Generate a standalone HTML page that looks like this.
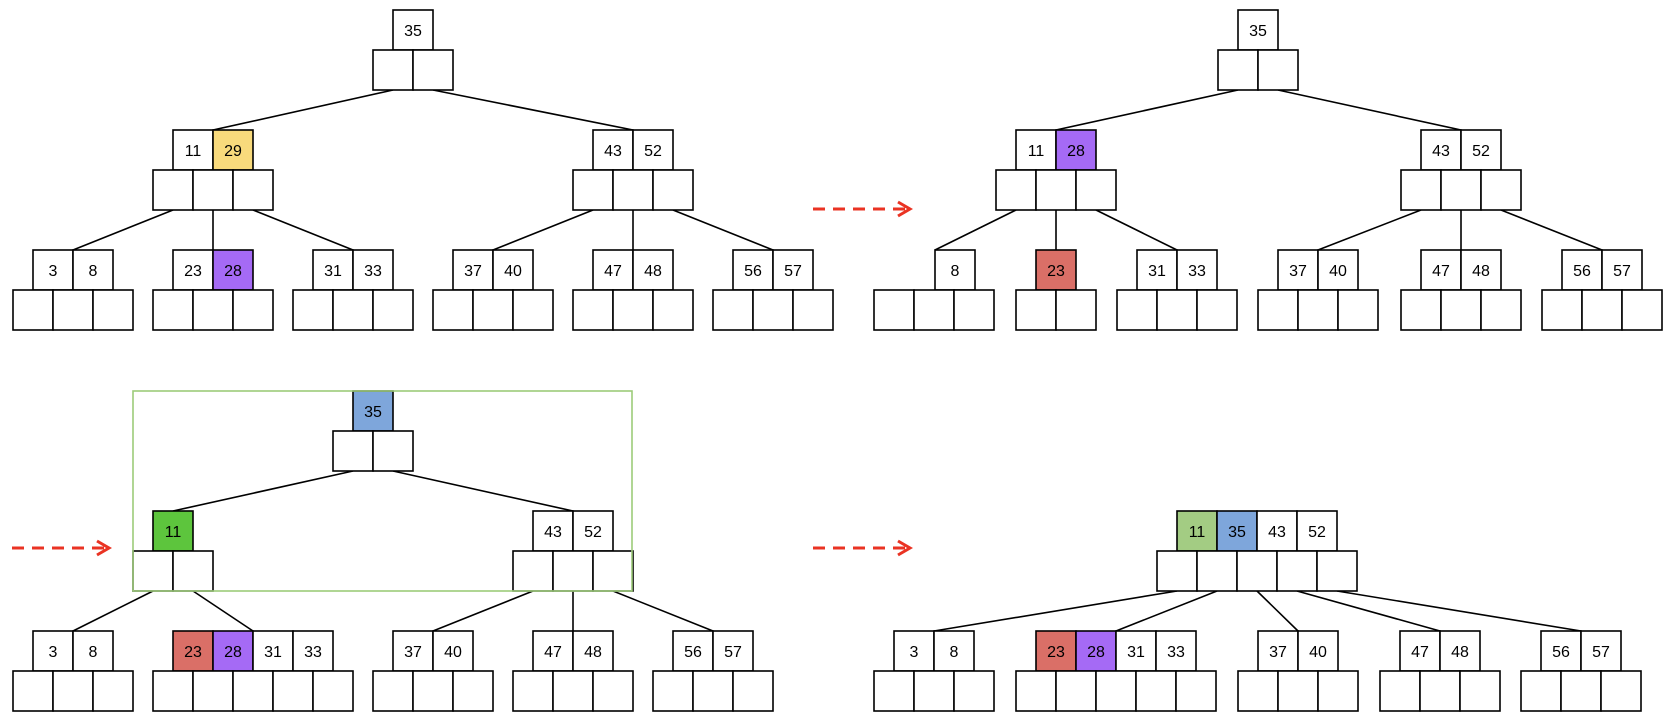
<!DOCTYPE html>
<html><head><meta charset="utf-8"><style>
html,body{margin:0;padding:0;background:#fff;}
svg{display:block;}
rect{fill:#fff;stroke:#000;stroke-width:1.6;}
line.e{stroke:#000;stroke-width:1.6;}
text{font-family:"Liberation Sans",sans-serif;font-size:16px;text-anchor:middle;fill:#000;}
.y{fill:#F8DA7C}.p{fill:#A56AF5}.r{fill:#DA6F67}.b{fill:#7EA6DB}.g{fill:#5DC53D}.lg{fill:#A3CC83}
</style></head><body>
<svg width="1664" height="720" viewBox="0 0 1664 720" xmlns="http://www.w3.org/2000/svg">
<g stroke="#EA3323" stroke-width="3" stroke-dasharray="12,8" fill="none">
<line x1="813" y1="209" x2="906" y2="209"/>
<line x1="813" y1="548" x2="906" y2="548"/>
<line x1="12" y1="548" x2="105" y2="548"/>
</g>
<g stroke="#EA3323" stroke-width="3" fill="none">
<path d="M898,202 L910,209 L898,216"/>
<path d="M898,541 L910,548 L898,555"/>
<path d="M97,541 L109,548 L97,555"/>
</g>

<line class="e" x1="393" y1="90" x2="213" y2="130"/><line class="e" x1="433" y1="90" x2="633" y2="130"/>
<line class="e" x1="173" y1="210" x2="73" y2="250"/><line class="e" x1="213" y1="210" x2="213" y2="250"/><line class="e" x1="253" y1="210" x2="353" y2="250"/>
<line class="e" x1="593" y1="210" x2="493" y2="250"/><line class="e" x1="633" y1="210" x2="633" y2="250"/><line class="e" x1="673" y1="210" x2="773" y2="250"/>
<rect x="393" y="10" width="40" height="40"/><text x="413" y="36">35</text>
<rect x="173" y="130" width="40" height="40"/><text x="193" y="156">11</text>
<rect class="y" x="213" y="130" width="40" height="40"/><text x="233" y="156">29</text>
<rect x="593" y="130" width="40" height="40"/><text x="613" y="156">43</text>
<rect x="633" y="130" width="40" height="40"/><text x="653" y="156">52</text>
<rect x="33" y="250" width="40" height="40"/><text x="53" y="276">3</text>
<rect x="73" y="250" width="40" height="40"/><text x="93" y="276">8</text>
<rect x="173" y="250" width="40" height="40"/><text x="193" y="276">23</text>
<rect class="p" x="213" y="250" width="40" height="40"/><text x="233" y="276">28</text>
<rect x="313" y="250" width="40" height="40"/><text x="333" y="276">31</text>
<rect x="353" y="250" width="40" height="40"/><text x="373" y="276">33</text>
<rect x="453" y="250" width="40" height="40"/><text x="473" y="276">37</text>
<rect x="493" y="250" width="40" height="40"/><text x="513" y="276">40</text>
<rect x="593" y="250" width="40" height="40"/><text x="613" y="276">47</text>
<rect x="633" y="250" width="40" height="40"/><text x="653" y="276">48</text>
<rect x="733" y="250" width="40" height="40"/><text x="753" y="276">56</text>
<rect x="773" y="250" width="40" height="40"/><text x="793" y="276">57</text>
<g>
<rect x="373" y="50" width="40" height="40"/><rect x="413" y="50" width="40" height="40"/>
<rect x="153" y="170" width="40" height="40"/><rect x="193" y="170" width="40" height="40"/><rect x="233" y="170" width="40" height="40"/>
<rect x="573" y="170" width="40" height="40"/><rect x="613" y="170" width="40" height="40"/><rect x="653" y="170" width="40" height="40"/>
<rect x="13" y="290" width="40" height="40"/><rect x="53" y="290" width="40" height="40"/><rect x="93" y="290" width="40" height="40"/>
<rect x="153" y="290" width="40" height="40"/><rect x="193" y="290" width="40" height="40"/><rect x="233" y="290" width="40" height="40"/>
<rect x="293" y="290" width="40" height="40"/><rect x="333" y="290" width="40" height="40"/><rect x="373" y="290" width="40" height="40"/>
<rect x="433" y="290" width="40" height="40"/><rect x="473" y="290" width="40" height="40"/><rect x="513" y="290" width="40" height="40"/>
<rect x="573" y="290" width="40" height="40"/><rect x="613" y="290" width="40" height="40"/><rect x="653" y="290" width="40" height="40"/>
<rect x="713" y="290" width="40" height="40"/><rect x="753" y="290" width="40" height="40"/><rect x="793" y="290" width="40" height="40"/>
</g>

<line class="e" x1="1238" y1="90" x2="1056" y2="130"/><line class="e" x1="1278" y1="90" x2="1461" y2="130"/>
<line class="e" x1="1016" y1="210" x2="935" y2="250"/><line class="e" x1="1056" y1="210" x2="1056" y2="250"/><line class="e" x1="1096" y1="210" x2="1177" y2="250"/>
<line class="e" x1="1421" y1="210" x2="1318" y2="250"/><line class="e" x1="1461" y1="210" x2="1461" y2="250"/><line class="e" x1="1501" y1="210" x2="1602" y2="250"/>
<rect x="1238" y="10" width="40" height="40"/><text x="1258" y="36">35</text>
<rect x="1016" y="130" width="40" height="40"/><text x="1036" y="156">11</text>
<rect class="p" x="1056" y="130" width="40" height="40"/><text x="1076" y="156">28</text>
<rect x="1421" y="130" width="40" height="40"/><text x="1441" y="156">43</text>
<rect x="1461" y="130" width="40" height="40"/><text x="1481" y="156">52</text>
<rect x="935" y="250" width="40" height="40"/><text x="955" y="276">8</text>
<rect class="r" x="1036" y="250" width="40" height="40"/><text x="1056" y="276">23</text>
<rect x="1137" y="250" width="40" height="40"/><text x="1157" y="276">31</text>
<rect x="1177" y="250" width="40" height="40"/><text x="1197" y="276">33</text>
<rect x="1278" y="250" width="40" height="40"/><text x="1298" y="276">37</text>
<rect x="1318" y="250" width="40" height="40"/><text x="1338" y="276">40</text>
<rect x="1421" y="250" width="40" height="40"/><text x="1441" y="276">47</text>
<rect x="1461" y="250" width="40" height="40"/><text x="1481" y="276">48</text>
<rect x="1562" y="250" width="40" height="40"/><text x="1582" y="276">56</text>
<rect x="1602" y="250" width="40" height="40"/><text x="1622" y="276">57</text>
<rect x="1218" y="50" width="40" height="40"/><rect x="1258" y="50" width="40" height="40"/>
<rect x="996" y="170" width="40" height="40"/><rect x="1036" y="170" width="40" height="40"/><rect x="1076" y="170" width="40" height="40"/>
<rect x="1401" y="170" width="40" height="40"/><rect x="1441" y="170" width="40" height="40"/><rect x="1481" y="170" width="40" height="40"/>
<rect x="874" y="290" width="40" height="40"/><rect x="914" y="290" width="40" height="40"/><rect x="954" y="290" width="40" height="40"/>
<rect x="1016" y="290" width="40" height="40"/><rect x="1056" y="290" width="40" height="40"/>
<rect x="1117" y="290" width="40" height="40"/><rect x="1157" y="290" width="40" height="40"/><rect x="1197" y="290" width="40" height="40"/>
<rect x="1258" y="290" width="40" height="40"/><rect x="1298" y="290" width="40" height="40"/><rect x="1338" y="290" width="40" height="40"/>
<rect x="1401" y="290" width="40" height="40"/><rect x="1441" y="290" width="40" height="40"/><rect x="1481" y="290" width="40" height="40"/>
<rect x="1542" y="290" width="40" height="40"/><rect x="1582" y="290" width="40" height="40"/><rect x="1622" y="290" width="40" height="40"/>

<line class="e" x1="353" y1="471" x2="173" y2="511"/><line class="e" x1="393" y1="471" x2="573" y2="511"/>
<line class="e" x1="153" y1="591" x2="73" y2="631"/><line class="e" x1="193" y1="591" x2="253" y2="631"/>
<line class="e" x1="533" y1="591" x2="433" y2="631"/><line class="e" x1="573" y1="591" x2="573" y2="631"/><line class="e" x1="613" y1="591" x2="713" y2="631"/>
<rect class="b" x="353" y="391" width="40" height="40"/><text x="373" y="417">35</text>
<rect class="g" x="153" y="511" width="40" height="40"/><text x="173" y="537">11</text>
<rect x="533" y="511" width="40" height="40"/><text x="553" y="537">43</text>
<rect x="573" y="511" width="40" height="40"/><text x="593" y="537">52</text>
<rect x="33" y="631" width="40" height="40"/><text x="53" y="657">3</text>
<rect x="73" y="631" width="40" height="40"/><text x="93" y="657">8</text>
<rect class="r" x="173" y="631" width="40" height="40"/><text x="193" y="657">23</text>
<rect class="p" x="213" y="631" width="40" height="40"/><text x="233" y="657">28</text>
<rect x="253" y="631" width="40" height="40"/><text x="273" y="657">31</text>
<rect x="293" y="631" width="40" height="40"/><text x="313" y="657">33</text>
<rect x="393" y="631" width="40" height="40"/><text x="413" y="657">37</text>
<rect x="433" y="631" width="40" height="40"/><text x="453" y="657">40</text>
<rect x="533" y="631" width="40" height="40"/><text x="553" y="657">47</text>
<rect x="573" y="631" width="40" height="40"/><text x="593" y="657">48</text>
<rect x="673" y="631" width="40" height="40"/><text x="693" y="657">56</text>
<rect x="713" y="631" width="40" height="40"/><text x="733" y="657">57</text>
<rect x="333" y="431" width="40" height="40"/><rect x="373" y="431" width="40" height="40"/>
<rect x="133" y="551" width="40" height="40"/><rect x="173" y="551" width="40" height="40"/>
<rect x="513" y="551" width="40" height="40"/><rect x="553" y="551" width="40" height="40"/><rect x="593" y="551" width="40" height="40"/>
<rect x="13" y="671" width="40" height="40"/><rect x="53" y="671" width="40" height="40"/><rect x="93" y="671" width="40" height="40"/>
<rect x="153" y="671" width="40" height="40"/><rect x="193" y="671" width="40" height="40"/><rect x="233" y="671" width="40" height="40"/><rect x="273" y="671" width="40" height="40"/><rect x="313" y="671" width="40" height="40"/>
<rect x="373" y="671" width="40" height="40"/><rect x="413" y="671" width="40" height="40"/><rect x="453" y="671" width="40" height="40"/>
<rect x="513" y="671" width="40" height="40"/><rect x="553" y="671" width="40" height="40"/><rect x="593" y="671" width="40" height="40"/>
<rect x="653" y="671" width="40" height="40"/><rect x="693" y="671" width="40" height="40"/><rect x="733" y="671" width="40" height="40"/>
<rect x="133" y="391" width="499" height="200" style="fill:none;stroke:#9DCB7A;stroke-width:1.6"/>

<line class="e" x1="1177" y1="591" x2="934" y2="631"/><line class="e" x1="1217" y1="591" x2="1116" y2="631"/>
<line class="e" x1="1257" y1="591" x2="1298" y2="631"/><line class="e" x1="1297" y1="591" x2="1440" y2="631"/>
<line class="e" x1="1337" y1="591" x2="1581" y2="631"/>
<rect class="lg" x="1177" y="511" width="40" height="40"/><text x="1197" y="537">11</text>
<rect class="b" x="1217" y="511" width="40" height="40"/><text x="1237" y="537">35</text>
<rect x="1257" y="511" width="40" height="40"/><text x="1277" y="537">43</text>
<rect x="1297" y="511" width="40" height="40"/><text x="1317" y="537">52</text>
<rect x="894" y="631" width="40" height="40"/><text x="914" y="657">3</text>
<rect x="934" y="631" width="40" height="40"/><text x="954" y="657">8</text>
<rect class="r" x="1036" y="631" width="40" height="40"/><text x="1056" y="657">23</text>
<rect class="p" x="1076" y="631" width="40" height="40"/><text x="1096" y="657">28</text>
<rect x="1116" y="631" width="40" height="40"/><text x="1136" y="657">31</text>
<rect x="1156" y="631" width="40" height="40"/><text x="1176" y="657">33</text>
<rect x="1258" y="631" width="40" height="40"/><text x="1278" y="657">37</text>
<rect x="1298" y="631" width="40" height="40"/><text x="1318" y="657">40</text>
<rect x="1400" y="631" width="40" height="40"/><text x="1420" y="657">47</text>
<rect x="1440" y="631" width="40" height="40"/><text x="1460" y="657">48</text>
<rect x="1541" y="631" width="40" height="40"/><text x="1561" y="657">56</text>
<rect x="1581" y="631" width="40" height="40"/><text x="1601" y="657">57</text>
<rect x="1157" y="551" width="40" height="40"/><rect x="1197" y="551" width="40" height="40"/><rect x="1237" y="551" width="40" height="40"/><rect x="1277" y="551" width="40" height="40"/><rect x="1317" y="551" width="40" height="40"/>
<rect x="874" y="671" width="40" height="40"/><rect x="914" y="671" width="40" height="40"/><rect x="954" y="671" width="40" height="40"/>
<rect x="1016" y="671" width="40" height="40"/><rect x="1056" y="671" width="40" height="40"/><rect x="1096" y="671" width="40" height="40"/><rect x="1136" y="671" width="40" height="40"/><rect x="1176" y="671" width="40" height="40"/>
<rect x="1238" y="671" width="40" height="40"/><rect x="1278" y="671" width="40" height="40"/><rect x="1318" y="671" width="40" height="40"/>
<rect x="1380" y="671" width="40" height="40"/><rect x="1420" y="671" width="40" height="40"/><rect x="1460" y="671" width="40" height="40"/>
<rect x="1521" y="671" width="40" height="40"/><rect x="1561" y="671" width="40" height="40"/><rect x="1601" y="671" width="40" height="40"/>
</svg>
</body></html>
